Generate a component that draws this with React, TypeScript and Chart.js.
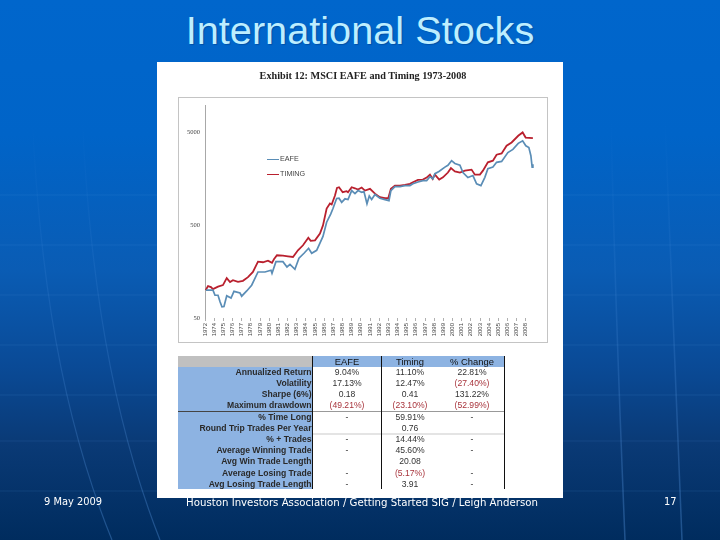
import React, { useEffect, useRef } from "react";
import { Chart, registerables } from "chart.js";

Chart.register(...registerables);

const eafeYears = [1973.11,1973.87,1974.09,1974.42,1974.64,1974.85,1975.07,1975.37,1975.84,1976.16,1976.82,1977.0,1977.55,1978.09,1978.78,1979.54,1980.2,1980.31,1980.74,1981.5,1981.94,1982.27,1982.81,1983.25,1983.8,1984.3,1984.64,1985.18,1985.87,1986.27,1986.71,1986.96,1987.36,1987.62,1987.91,1988.27,1988.6,1989.0,1989.36,1989.69,1990.09,1990.34,1990.67,1990.92,1991.18,1991.54,1992.08,1992.63,1993.07,1993.28,1993.72,1994.27,1994.81,1995.36,1995.68,1996.23,1996.77,1997.18,1997.54,1997.86,1998.08,1998.52,1999.17,1999.5,1999.9,2000.26,2000.81,2001.14,2001.68,2002.23,2002.63,2003.1,2003.53,2003.86,2004.41,2004.81,2005.36,2006.04,2006.59,2007.17,2007.65,2008.0,2008.33,2008.55,2008.69,2008.77];
const eafeValues = [100,100,88,88,75,66,66.5,87,82,97,93,86,98,113,157,157,164,152,203,203,178,190,168,221,250,283,250,269,380,541,662,761,975,982,887,968,950,1188,1100,1188,1140,1160,858,1040,950,1076,982,950,925,1188,1310,1310,1345,1345,1405,1470,1520,1520,1680,1590,1810,1912,2130,2230,2498,2330,2230,1860,1640,1725,1405,1345,1650,2049,2130,2397,2455,3060,3310,3840,4090,3620,3470,2825,2130,2280];
const timingYears = [1973.08,1973.33,1973.65,1973.87,1974.42,1974.96,1975.37,1975.73,1976.05,1976.6,1977.14,1977.69,1978.23,1978.78,1979.32,1979.87,1980.31,1980.52,1980.85,1981.5,1982.05,1982.6,1983.14,1983.69,1984.27,1984.53,1985.0,1985.54,1985.87,1986.27,1986.63,1986.82,1987.18,1987.4,1987.62,1988.02,1988.45,1988.6,1989.0,1989.36,1989.69,1990.09,1990.45,1991.0,1991.54,1992.08,1992.63,1992.99,1993.28,1993.72,1994.27,1994.81,1995.36,1995.68,1996.23,1996.77,1997.18,1997.54,1997.83,1998.08,1998.55,1998.96,1999.5,1999.83,2000.26,2000.81,2001.35,2002.08,2002.44,2002.99,2003.32,2003.86,2004.41,2004.81,2005.36,2005.9,2006.45,2007.17,2007.65,2007.98,2008.77];
const timingValues = [100,110.6,107.8,102.4,109,113.3,134.6,122,128,123,126,138,157,203,200,208,197,215,238,236,232,228,269,305,368,340,345,407,500,761,861,840,1050,1270,1290,1140,1170,1140,1290,1258,1219,1280,1188,1240,1100,1008,982,982,1240,1345,1345,1370,1405,1460,1550,1561,1640,1766,1590,1766,1561,1650,1860,2075,1912,1860,1950,2000,1766,1766,1950,2397,2498,2897,2990,3621,3930,4637,5040,4440,4380];

const yearTicks = ["1972","1974","1975","1976","1977","1978","1979","1980","1981","1982","1983","1984","1985","1986","1987","1988","1989","1990","1991","1992","1993","1994","1995","1996","1997","1998","1999","2000","2001","2002","2003","2004","2005","2006","2007","2008"];
const yTicks = [50, 500, 5000];

const rowLabels = ["Annualized Return","Volatility","Sharpe (6%)","Maximum drawdown","% Time Long","Round Trip Trades Per Year","% + Trades","Average Winning Trade","Avg Win Trade Length","Average Losing Trade","Avg Losing Trade Length"];
const colHeads = ["EAFE","Timing","% Change"];
const eafeCol = ["9.04%","17.13%","0.18","(49.21%)","-","","-","-","","-","-"];
const timingCol = ["11.10%","12.47%","0.41","(23.10%)","59.91%","0.76","14.44%","45.60%","20.08","(5.17%)","3.91"];
const changeCol = ["22.81%","(27.40%)","131.22%","(52.99%)","-","","-","-","","-","-"];

const EAFE_COLOR = "#5a8db6";
const TIMING_COLOR = "#b9202e";

const abs = (left: number, top: number, width: number, height: number): React.CSSProperties => ({
  position: "absolute", left, top, width, height,
});

function cellColor(s: string) {
  return s.startsWith("(") ? "#a8343c" : "#333";
}

export default function App() {
  const ref = useRef<HTMLCanvasElement>(null);
  useEffect(() => {
    const chart = new Chart(ref.current!, {
      type: "line",
      data: {
        datasets: [
          { label: "EAFE", data: eafeYears.map((x, i) => ({ x, y: eafeValues[i] })), borderColor: EAFE_COLOR, borderWidth: 1.7, pointRadius: 0, tension: 0 },
          { label: "TIMING", data: timingYears.map((x, i) => ({ x, y: timingValues[i] })), borderColor: TIMING_COLOR, borderWidth: 1.8, pointRadius: 0, tension: 0 },
        ],
      },
      options: {
        responsive: false,
        animation: false,
        layout: { padding: { top: 8, right: 13, left: 0, bottom: 0 } },
        plugins: { legend: { display: false }, title: { display: false }, tooltip: { enabled: false } },
        scales: {
          x: {
            type: "linear",
            min: 1973,
            max: 2009,
            afterFit: (s: any) => { s.height = 25; },
            afterBuildTicks: (s: any) => { s.ticks = yearTicks.map((_, i) => ({ value: 1973 + i })); },
            grid: { display: true, drawOnChartArea: false, drawTicks: true, tickLength: 3, tickColor: "#b0b0b0" } as any,
            border: { display: false },
            ticks: {
              autoSkip: false, minRotation: 90, maxRotation: 90, padding: 2,
              font: { family: "Liberation Sans", size: 6 }, color: "#444",
              callback: (v: any) => yearTicks[Number(v) - 1973] ?? "",
            },
          },
          y: {
            type: "logarithmic",
            min: 50,
            max: 9750,
            afterFit: (s: any) => { s.width = 27; },
            afterBuildTicks: (s: any) => { s.ticks = yTicks.map((value) => ({ value })); },
            grid: { display: false, drawTicks: false, tickLength: 0 } as any,
            border: { display: true, color: "#a8a8a8", width: 1 },
            ticks: {
              padding: 5,
              font: { family: "Liberation Serif", size: 6.5 }, color: "#444",
              callback: (v: any) => String(v),
            },
          },
        },
      },
    });
    return () => chart.destroy();
  }, []);

  const TABLE_LEFT = 178;
  const LABEL_RIGHT = 312.5;
  const ROW_H = 11.2;
  const FIRST_ROW_TOP = 366.7;
  const colCenters = [347, 410, 472];

  const cellStyle = (center: number, top: number, h: number): React.CSSProperties => ({
    ...abs(center - 32, top, 64, h), textAlign: "center", lineHeight: `${h}px`, whiteSpace: "nowrap",
  });

  return (
    <div style={{ position: "fixed", left: 0, top: 0, width: 720, height: 540, overflow: "hidden",
      background: "linear-gradient(180deg,#0066cc 0%,#0064c8 25%,#0a5cb4 50%,#0a4a96 68%,#0a3a76 82%,#002c5e 100%)",
      fontFamily: "Liberation Sans" }}>
      <svg width={720} height={540} style={{ position: "absolute", left: 0, top: 0 }}>
        <defs>
          <linearGradient id="fade" gradientUnits="userSpaceOnUse" x1={0} y1={120} x2={0} y2={540}>
            <stop offset="0" stopColor="#5a9be6" stopOpacity={0} />
            <stop offset="1" stopColor="#5a9be6" stopOpacity={0.35} />
          </linearGradient>
        </defs>
        {[195, 245, 295, 345, 395, 441, 491].map((y) => (
          <line key={y} x1={0} x2={720} y1={y} y2={y} stroke="#5a9be6" strokeOpacity={0.14} />
        ))}
        <path d="M30 60 C35 240 55 400 112 540" stroke="url(#fade)" fill="none" strokeWidth={1.2} />
        <path d="M80 60 C85 240 105 400 160 540" stroke="url(#fade)" fill="none" strokeWidth={1.2} />
        <path d="M610 60 C612 200 616 320 625 540" stroke="url(#fade)" fill="none" strokeWidth={1.5} />
        <path d="M663 60 C668 200 672 320 682 540" stroke="url(#fade)" fill="none" strokeWidth={1.5} />
      </svg>

      <div style={{ ...abs(0, 7, 720, 46), textAlign: "center", fontSize: 39.7, lineHeight: "46px", color: "#bdeeff", textShadow: "1px 1px 1px #0050a8" }}>
        International Stocks
      </div>

      <div style={{ ...abs(157, 62, 406, 436), background: "#fff" }} />

      <div style={{ ...abs(0, 0, 720, 540), filter: "blur(0.55px)" }}>
        <div style={{ ...abs(163, 69, 400, 14), textAlign: "center", fontFamily: "Liberation Serif", fontWeight: 700, fontSize: 10.2, lineHeight: "14px", color: "#222" }}>
          Exhibit 12: MSCI EAFE and Timing 1973-2008
        </div>

        <div style={{ ...abs(178, 97, 370, 246), boxSizing: "border-box", border: "1.5px solid #c4c4c4" }} />
        <canvas ref={ref} width={370} height={246} style={{ ...abs(178, 97, 370, 246), display: "block" }} />

        {[{ name: "EAFE", color: EAFE_COLOR, y: 158.5 }, { name: "TIMING", color: TIMING_COLOR, y: 173.5 }].map((l) => (
          <React.Fragment key={l.name}>
            <div style={{ ...abs(267, l.y, 12, 1.8), background: l.color }} />
            <div style={{ ...abs(280, l.y - 4.5, 40, 10), fontSize: 7.2, lineHeight: "10px", color: "#444" }}>{l.name}</div>
          </React.Fragment>
        ))}

        <div style={{ fontSize: 8.6 }}>
          <div style={{ ...abs(TABLE_LEFT, 356, LABEL_RIGHT - TABLE_LEFT, 11), background: "#c0c0c0" }} />
          <div style={{ ...abs(LABEL_RIGHT, 356, 504 - LABEL_RIGHT, 11), background: "#8db3e2" }} />
          <div style={{ ...abs(TABLE_LEFT, 367, LABEL_RIGHT - TABLE_LEFT, 122), background: "#8db3e2" }} />
          {colHeads.map((h, i) => (
            <div key={h} style={{ ...cellStyle(colCenters[i], 356, 11), color: "#111", fontSize: 9.4 }}>{h}</div>
          ))}
          {rowLabels.map((label, i) => {
            const top = FIRST_ROW_TOP + i * ROW_H;
            return (
              <React.Fragment key={label}>
                <div style={{ ...abs(TABLE_LEFT, top, LABEL_RIGHT - TABLE_LEFT - 1, ROW_H), textAlign: "right", lineHeight: `${ROW_H}px`, fontWeight: 700, color: "#2a2a2a", whiteSpace: "nowrap" }}>{label}</div>
                <div style={{ ...cellStyle(colCenters[0], top, ROW_H), color: cellColor(eafeCol[i]) }}>{eafeCol[i]}</div>
                <div style={{ ...cellStyle(colCenters[1], top, ROW_H), color: cellColor(timingCol[i]) }}>{timingCol[i]}</div>
                <div style={{ ...cellStyle(colCenters[2], top, ROW_H), color: cellColor(changeCol[i]) }}>{changeCol[i]}</div>
              </React.Fragment>
            );
          })}
          <div style={{ ...abs(TABLE_LEFT, 411, LABEL_RIGHT - TABLE_LEFT, 1), background: "#444" }} />
          <div style={{ ...abs(LABEL_RIGHT, 411, 504 - LABEL_RIGHT, 1), background: "#999" }} />
          <div style={{ ...abs(LABEL_RIGHT, 433, 504 - LABEL_RIGHT, 1.5), background: "#e4e4e4" }} />
          <div style={{ ...abs(LABEL_RIGHT - 0.5, 356, 1, 133), background: "#111" }} />
          <div style={{ ...abs(381, 356, 1, 133), background: "#111" }} />
          <div style={{ ...abs(504, 356, 1, 133), background: "#111" }} />
        </div>
      </div>

      <div style={{ ...abs(44, 495, 70, 13), fontFamily: "DejaVu Sans", fontSize: 9.9, lineHeight: "13px", color: "#fff", whiteSpace: "nowrap" }}>9 May 2009</div>
      <div style={{ ...abs(162, 496, 400, 13), textAlign: "center", fontFamily: "DejaVu Sans", fontSize: 10.2, lineHeight: "13px", color: "#fff", whiteSpace: "nowrap" }}>
        Houston Investors Association / Getting Started SIG / Leigh Anderson
      </div>
      <div style={{ ...abs(664, 495, 20, 13), fontFamily: "DejaVu Sans", fontSize: 9.9, lineHeight: "13px", color: "#fff" }}>17</div>
    </div>
  );
}
